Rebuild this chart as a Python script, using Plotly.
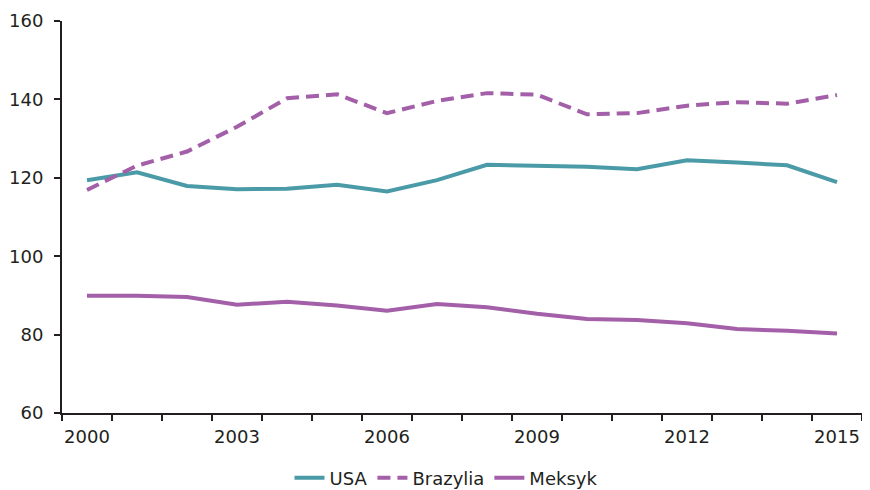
import plotly.graph_objects as go

years = list(range(2000, 2016))
usa = [119.4, 121.4, 117.9, 117.1, 117.2, 118.2, 116.5, 119.4, 123.3, 123.0, 122.8, 122.2, 124.5, 123.9, 123.2, 118.9]
brazylia = [116.9, 123.1, 126.7, 133.0, 140.3, 141.3, 136.5, 139.6, 141.6, 141.2, 136.2, 136.5, 138.4, 139.3, 138.9, 141.1]
meksyk = [89.9, 89.9, 89.6, 87.6, 88.4, 87.4, 86.1, 87.8, 87.0, 85.3, 84.0, 83.7, 82.9, 81.4, 81.0, 80.3]
tick_years = [2000, 2003, 2006, 2009, 2012, 2015]

teal = "#4A9BA7"
purple = "#A35FA8"
axis_col = "#231F20"

xs = list(range(len(years)))

fig = go.Figure()
fig.add_trace(go.Scatter(x=xs, y=usa, name="USA", mode="lines",
                         line=dict(color=teal, width=4)))
fig.add_trace(go.Scatter(x=xs, y=brazylia, name="Brazylia", mode="lines",
                         line=dict(color=purple, width=4, dash="13px,7px")))
fig.add_trace(go.Scatter(x=xs, y=meksyk, name="Meksyk", mode="lines",
                         line=dict(color=purple, width=4)))

# page body has an 8px margin, so the figure is sized to fit the window
fig.update_layout(
    width=854, height=482,
    margin=dict(l=54, r=0, t=13, b=77, autoexpand=False),
    paper_bgcolor="white", plot_bgcolor="white",
    font=dict(family="DejaVu Sans, Liberation Sans, sans-serif", size=18, color=axis_col),
    showlegend=True,
    legend=dict(orientation="h", x=0.48, xanchor="center", yref="container",
                y=0.025, yanchor="middle", font=dict(size=18)),
)
fig.update_xaxes(
    automargin=False,
    range=[-0.5, len(years) - 0.5],
    tickvals=[years.index(y) for y in tick_years],
    ticktext=[str(y) for y in tick_years],
    ticks="", showgrid=False, zeroline=False,
    showline=True, linecolor=axis_col, linewidth=2,
    minor=dict(tickvals=[i - 0.5 for i in range(len(years) + 1)],
               ticks="outside", ticklen=6, tickcolor=axis_col, tickwidth=1.5, showgrid=False),
    ticklabelstandoff=6,
)
fig.update_yaxes(
    automargin=False,
    range=[60, 160], tickvals=[60, 80, 100, 120, 140, 160],
    ticks="outside", ticklen=6, tickcolor=axis_col, tickwidth=1.5,
    showgrid=False, zeroline=False,
    showline=True, linecolor=axis_col, linewidth=2,
    ticklabelstandoff=7,
)

fig.write_html("out.html")
